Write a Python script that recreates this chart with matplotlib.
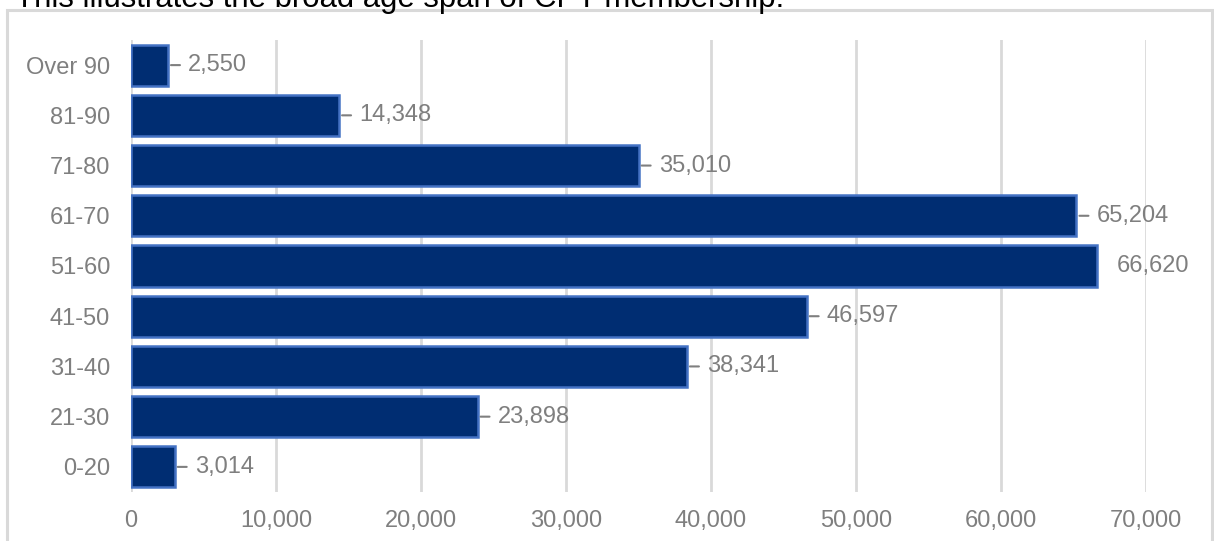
import matplotlib
matplotlib.use('Agg')
import matplotlib.pyplot as plt
from matplotlib.patches import Rectangle
from matplotlib.ticker import FuncFormatter

plt.rcParams['font.family'] = ['Liberation Sans', 'DejaVu Sans']

# membership by age band, bottom to top
age_bands = ['0-20', '21-30', '31-40', '41-50', '51-60', '61-70', '71-80', '81-90', 'Over 90']
members = [3014, 23898, 38341, 46597, 66620, 65204, 35010, 14348, 2550]
x_ticks = [0, 10000, 20000, 30000, 40000, 50000, 60000, 70000]

bar_face = '#002d72'
bar_edge = '#4472c4'
text_grey = '#7f7f7f'
grid_grey = '#d9d9d9'

fig = plt.figure(figsize=(12.14, 5.41), dpi=100)
ax = fig.add_axes([131 / 1214, 49 / 541, 1015 / 1214, 452 / 541])

# light frame around the chart area (runs off the bottom)
fig.patches.append(Rectangle((7 / 1214, -0.05), 1205 / 1214, 1.05 - 10 / 541,
                             transform=fig.transFigure, fill=False,
                             edgecolor=grid_grey, linewidth=2.2))

fig.text(15 / 1214, 1 - 7 / 541,
         'This illustrates the broad age span of CPT membership.',
         fontsize=22.4, color='black', va='baseline', ha='left')

ypos = list(range(len(age_bands)))
ax.barh(ypos, members, height=0.82, color=bar_face, edgecolor=bar_edge,
        linewidth=1.8, zorder=3)

top = max(members)
px = 72 / fig.dpi  # one pixel in points
for y, v in zip(ypos, members):
    ax.annotate(f'{v:,}', xy=(v, y), xytext=(20, 0), textcoords='offset pixels',
                va='center', ha='left', fontsize=17, color=text_grey, zorder=4)
    # short leader dash between bar end and label
    if v != top:
        ax.annotate('', xy=(v, y), xytext=(12, 0), textcoords='offset pixels',
                    arrowprops=dict(arrowstyle='-', color=text_grey, lw=1.5,
                                    shrinkA=0, shrinkB=3 * px),
                    zorder=4)

ax.set_xlim(0, 70000)
ax.set_ylim(-0.5, len(age_bands) - 0.5)
ax.set_xticks(x_ticks)
ax.xaxis.set_major_formatter(FuncFormatter(lambda x, p: f'{int(x):,}'))
ax.set_yticks(ypos)
ax.set_yticklabels(age_bands)
ax.tick_params(axis='x', length=0, pad=13, labelsize=17, labelcolor=text_grey)
ax.tick_params(axis='y', length=0, pad=15, labelsize=17, labelcolor=text_grey)
ax.grid(axis='x', color=grid_grey, linewidth=2, zorder=0)
for s in ax.spines.values():
    s.set_visible(False)

fig.savefig('out.png', dpi=100)
